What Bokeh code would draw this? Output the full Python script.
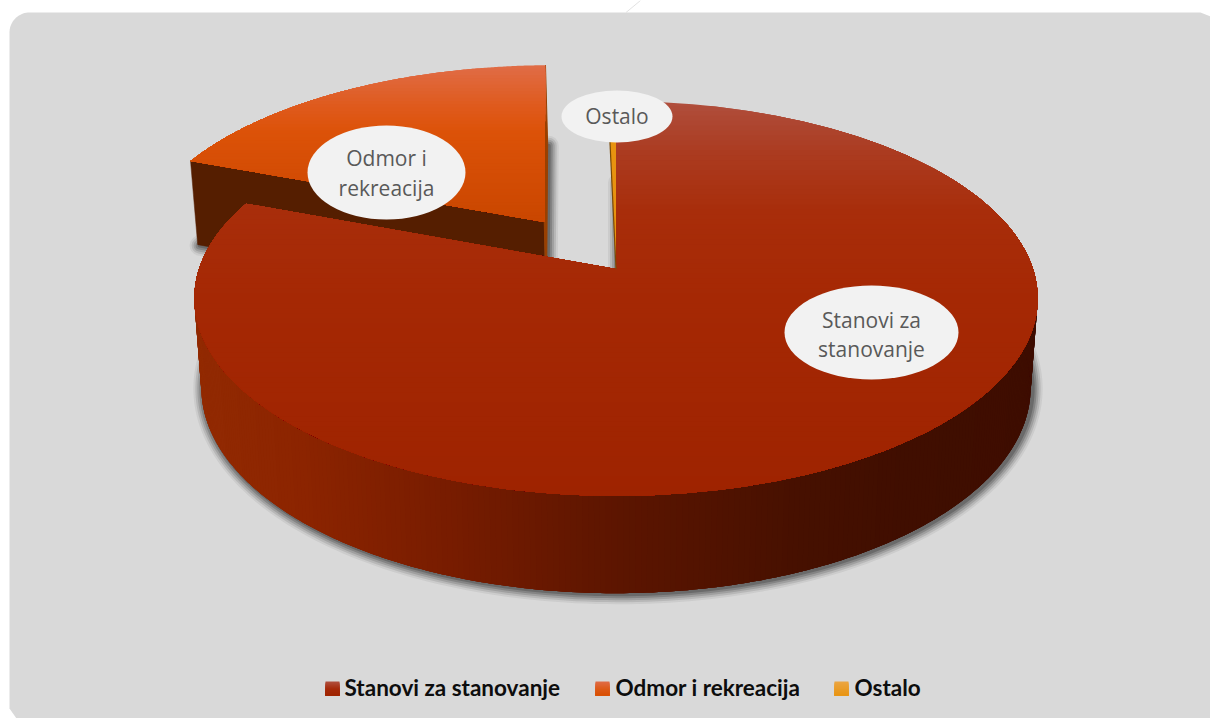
import numpy as np
from bokeh.plotting import figure
from bokeh.models import Range1d
from bokeh.core.properties import value
from bokeh.embed import file_html
from bokeh.resources import INLINE

# ---- data -------------------------------------------------------------
categories = ["Stanovi za stanovanje", "Odmor i rekreacija", "Ostalo"]
shares = [80.8, 18.85, 0.35]
label_lines = [["Stanovi za", "stanovanje"], ["Odmor i", "rekreacija"], ["Ostalo"]]
explode = [0.0, 0.31, 0.0]

# ---- style / layout ----------------------------------------------------
BG = "#d9d9d9"
TOP_STOPS = [
    [(100, "#b04e3c"), (150, "#ab3b20"), (210, "#a82d0a"), (300, "#a52804"), (495, "#9e2300")],
    [(64, "#e06c46"), (105, "#df5a1c"), (130, "#dc5208"), (222, "#c94600")],
    [(100, "#e9a030"), (268, "#e8930f")],
]
WALL_STOPS = [(195, "#922a02"), (300, "#8c2400"), (450, "#771c00"), (615, "#5c1500"),
              (800, "#461000"), (900, "#400e00"), (1040, "#3e0d00")]
SWATCH_STOPS = [[(0, "#b04e3c"), (0.5, "#a52a0a"), (1, "#9e2300")],
                [(0, "#e06c46"), (0.5, "#dc5a18"), (1, "#d84e00")],
                [(0, "#eba542"), (1, "#e8930f")]]
LABEL_POS = [(871, 332, 87, 47), (386, 172, 79, 47), (616.5, 116, 55.5, 26)]
LABEL_TEXT_DY = [2, 0.5, -0.5]
LEGEND_SWATCH_X = [325, 595, 834]
LEGEND_TEXT_X = [344, 615, 854]
LEGEND_Y = 688

AX, AY = 615.5, 268.5      # apex of the pie's top face
K = -0.149                 # perspective
AT, BT = 193.0, 417.0      # top-face scale
DB, AB, BB = 88.0, 201.0, 410.0   # bottom face: drop and scale


def hex2rgb(c):
    return np.array([int(c[i:i + 2], 16) for i in (1, 3, 5)], float)


def ramp(stops, t):
    ts = [s[0] for s in stops]
    cs = np.array([hex2rgb(s[1]) for s in stops])
    r = [np.interp(t, ts, cs[:, i]) for i in range(3)]
    return "#%02x%02x%02x" % tuple(int(round(c)) for c in r)


def top_map(u, v):
    d = 1 + K * v
    return AX + BT * u / d, AY + AT * v / d


def bot_map(u, v):
    d = 1 + K * v
    return AX + BB * u / d, AY + DB + AB * v / d


def arc_world(a0, a1, ex, n=240):
    mid = np.radians((a0 + a1) / 2)
    ox, oy = ex * np.sin(mid), -ex * np.cos(mid)
    th = np.radians(np.linspace(a0, a1, n))
    return np.sin(th) + ox, -np.cos(th) + oy, ox, oy


def clip_below(xs, ys, yc):
    ox, oy = [], []
    n = len(xs)
    for i in range(n):
        x0, y0, x1, y1 = xs[i], ys[i], xs[(i + 1) % n], ys[(i + 1) % n]
        if y0 >= yc:
            ox.append(x0); oy.append(y0)
        if (y0 >= yc) != (y1 >= yc):
            f = (yc - y0) / (y1 - y0)
            ox.append(x0 + f * (x1 - x0)); oy.append(yc)
    return ox, oy


def gradient_patches(p, xs, ys, stops, bands=48):
    lo, hi = min(ys), max(ys)
    out_x, out_y, cols = [], [], []
    for i in range(bands):
        yc = lo + (hi - lo) * i / bands
        cx, cy = clip_below(list(xs), list(ys), yc)
        if len(cx) > 2:
            out_x.append(cx); out_y.append(cy); cols.append(ramp(stops, yc))
    p.patches(out_x, out_y, fill_color=cols, line_color=None)


p = figure(width=1210, height=718, output_backend="svg", toolbar_location=None,
           x_range=Range1d(0, 1210), y_range=Range1d(718, 0), min_border=0,
           background_fill_color="white", border_fill_color="white", outline_line_color=None)
p.axis.visible = False
p.grid.visible = False

# panel with rounded top-left corner
r = 20
th = np.radians(np.linspace(180, 270, 20))
px = list(9 + r + r * np.cos(th)) + [1200, 1210, 1210, 16, 9]
py = list(12 + r + r * np.sin(th)) + [12, 16, 718, 718, 708]
p.patch(px, py, fill_color=BG, line_color=None)
p.line([625.5, 640], [12, 0], line_color="#e2e2e2", line_width=1)

# slice angles (clockwise from the top)
edges = np.concatenate([[0], np.cumsum(shares)]) / sum(shares) * 360
angles = list(zip(edges[:-1], edges[1:]))
worlds = [arc_world(a0, a1, ex) for (a0, a1), ex in zip(angles, explode)]


def wedge(mapper, w):
    u, v, ox, oy = w
    x, y = mapper(np.append(u, ox), np.append(v, oy))
    return list(x), list(y)


# soft shadow below every slice's bottom face
for lw, al in [(20, 0.08), (16, 0.13), (12, 0.18), (8, 0.24), (4, 0.30)]:
    for w in worlds[:2]:
        x, y = wedge(bot_map, w)
        p.patch([a + 2 for a in x], [b + 1 for b in y], fill_alpha=0, line_color="#303030",
                line_alpha=al, line_width=lw, line_join="round")

# Odmor i rekreacija: cut faces and top
u, v, ox, oy = worlds[1]
tx0, ty0 = top_map(np.array([u[0], ox]), np.array([v[0], oy]))
bx0, by0 = bot_map(np.array([u[0], ox]), np.array([v[0], oy]))
p.patch([tx0[0], tx0[1], bx0[1], bx0[0]], [ty0[0], ty0[1], by0[1], by0[0]],
        fill_color="#551e00", line_color="#551e00", line_width=0.5)
tx1, ty1 = top_map(np.array([u[-1], ox]), np.array([v[-1], oy]))
bx1, by1 = bot_map(np.array([u[-1], ox]), np.array([v[-1], oy]))
p.patch([tx1[0], tx1[1], bx1[1] + 1, bx1[0] + 1], [ty1[0], ty1[1], by1[1], by1[0]],
        fill_color="#9a4000", line_color="#9a4000", line_width=1)
x, y = wedge(top_map, worlds[1])
gradient_patches(p, x, y, TOP_STOPS[1])

# Stanovi: outer wall as strips painted left to right, each overlapping the next ones
u, v, _, _ = arc_world(angles[0][0], angles[0][1], 0, n=420)
tx, ty = top_map(u, v)
bx, by = bot_map(u, v)
sx, sy, sc = [], [], []
last = len(u) - 1
for i in range(last, -1, -1):          # from the left end round the front to the right
    if ty[i] < AY - 20:
        continue
    j = max(i - 4, 0)
    sx.append(list(tx[j:i + 1][::-1]) + list(bx[j:i + 1]))
    sy.append(list(ty[j:i + 1][::-1]) + list(by[j:i + 1]))
    sc.append(ramp(WALL_STOPS, (tx[i] + bx[i]) / 2))
p.patches(sx, sy, fill_color=sc, line_color=None)

# Stanovi top
x, y = wedge(top_map, worlds[0])
gradient_patches(p, x, y, TOP_STOPS[0], bands=80)

# Ostalo top
x, y = wedge(top_map, worlds[2])
p.patch(x, y, fill_color=TOP_STOPS[2][1][1], line_color=None)
p.line([x[0], x[-1]], [y[0], y[-1]], line_color="#7a4a08", line_width=1.2)

# data labels
lx = [q[0] for q in LABEL_POS]
ly = [q[1] for q in LABEL_POS]
lw_ = [q[2] * 2 for q in LABEL_POS]
lh_ = [q[3] * 2 for q in LABEL_POS]
p.ellipse(lx, ly, width=lw_, height=lh_, fill_color="#f2f2f2", line_color=None)
for (cx, cy, _, _), lines, dy in zip(LABEL_POS, label_lines, LABEL_TEXT_DY):
    n = len(lines)
    for i, t in enumerate(lines):
        p.text([cx], [cy + dy + (i - (n - 1) / 2) * 29.5], text=[t], text_align="center",
               text_baseline="middle", text_color="#595959",
               text_font=value("Open Sans"), text_font_size="21px")

# legend
for name, sw, tx_, st in zip(categories, LEGEND_SWATCH_X, LEGEND_TEXT_X, SWATCH_STOPS):
    sq = [(LEGEND_Y - 7 + 14 * f, s) for f, s in st]
    gradient_patches(p, [sw, sw + 14, sw + 14, sw], [LEGEND_Y - 7, LEGEND_Y - 7, LEGEND_Y + 7, LEGEND_Y + 7],
                     sq, bands=14)
    p.text([tx_], [LEGEND_Y - 1.5], text=[name], text_align="left", text_baseline="middle",
           text_color="#0d0d0d", text_font=value("Lato"), text_font_style="bold",
           text_font_size="22.5px")

open("out.html", "w").write(file_html(p, INLINE))
